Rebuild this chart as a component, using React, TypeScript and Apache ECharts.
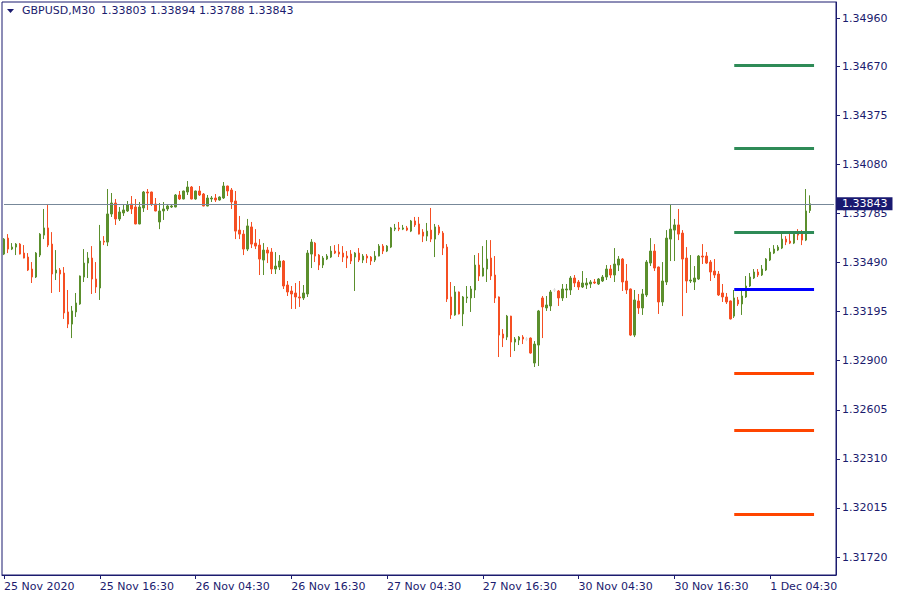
import { useEffect, useRef } from "react";
import * as echarts from "echarts";

// [open, close, low, high] per 30-minute bar, 25 Nov 2020 04:30 onwards
const ohlc: number[][] = [
  [1.33541, 1.33631, 1.33535, 1.33637], [1.33637, 1.33571, 1.33547, 1.33661], [1.33571, 1.33583, 1.33565, 1.33607],
  [1.33583, 1.33601, 1.33535, 1.33607], [1.33601, 1.33541, 1.33539, 1.33607], [1.33547, 1.33517, 1.33515, 1.33595],
  [1.33523, 1.33445, 1.33439, 1.33547], [1.33451, 1.33403, 1.33367, 1.33493], [1.33403, 1.33547, 1.33397, 1.33553],
  [1.33535, 1.33661, 1.33523, 1.33667], [1.33655, 1.33698, 1.33631, 1.33812], [1.33698, 1.33595, 1.33583, 1.33842],
  [1.33601, 1.33421, 1.33307, 1.33673], [1.33427, 1.33445, 1.33385, 1.33565], [1.33445, 1.33421, 1.33313, 1.33457],
  [1.33427, 1.33187, 1.33151, 1.33463], [1.33193, 1.33120, 1.33096, 1.33325], [1.33120, 1.33199, 1.33036, 1.33229],
  [1.33193, 1.33247, 1.33163, 1.33307], [1.33241, 1.33409, 1.33236, 1.33412], [1.33403, 1.33487, 1.33373, 1.33571],
  [1.33487, 1.33517, 1.33397, 1.33553], [1.33517, 1.33391, 1.33301, 1.33589], [1.33391, 1.33343, 1.33307, 1.33493],
  [1.33337, 1.33619, 1.33265, 1.33716], [1.33619, 1.33613, 1.33595, 1.33649], [1.33613, 1.33782, 1.33589, 1.33932],
  [1.33782, 1.33848, 1.33764, 1.33908], [1.33848, 1.33752, 1.33716, 1.33872], [1.33752, 1.33794, 1.33740, 1.33824],
  [1.33788, 1.33806, 1.33770, 1.33836], [1.33800, 1.33836, 1.33794, 1.33860], [1.33842, 1.33812, 1.33782, 1.33890],
  [1.33824, 1.33722, 1.33720, 1.33872], [1.33722, 1.33824, 1.33720, 1.33854], [1.33818, 1.33914, 1.33794, 1.33920],
  [1.33914, 1.33908, 1.33806, 1.33932], [1.33914, 1.33842, 1.33830, 1.33916], [1.33842, 1.33800, 1.33798, 1.33878],
  [1.33734, 1.33800, 1.33691, 1.33848], [1.33800, 1.33812, 1.33746, 1.33854], [1.33812, 1.33830, 1.33800, 1.33842],
  [1.33824, 1.33830, 1.33818, 1.33836], [1.33824, 1.33896, 1.33822, 1.33902], [1.33896, 1.33872, 1.33866, 1.33920],
  [1.33872, 1.33920, 1.33870, 1.33922], [1.33914, 1.33944, 1.33896, 1.33980], [1.33944, 1.33872, 1.33870, 1.33950],
  [1.33872, 1.33920, 1.33868, 1.33922], [1.33920, 1.33896, 1.33890, 1.33950], [1.33902, 1.33830, 1.33828, 1.33908],
  [1.33830, 1.33878, 1.33828, 1.33896], [1.33872, 1.33878, 1.33854, 1.33890], [1.33878, 1.33866, 1.33854, 1.33902],
  [1.33866, 1.33884, 1.33862, 1.33888], [1.33878, 1.33950, 1.33872, 1.33974], [1.33950, 1.33920, 1.33890, 1.33952],
  [1.33926, 1.33854, 1.33812, 1.33938], [1.33860, 1.33679, 1.33631, 1.33920], [1.33685, 1.33661, 1.33631, 1.33770],
  [1.33661, 1.33571, 1.33535, 1.33685], [1.33571, 1.33710, 1.33559, 1.33752], [1.33704, 1.33601, 1.33577, 1.33734],
  [1.33607, 1.33589, 1.33571, 1.33691], [1.33595, 1.33511, 1.33415, 1.33631], [1.33505, 1.33565, 1.33415, 1.33607],
  [1.33565, 1.33547, 1.33487, 1.33583], [1.33553, 1.33451, 1.33421, 1.33577], [1.33451, 1.33469, 1.33421, 1.33553],
  [1.33463, 1.33499, 1.33445, 1.33535], [1.33499, 1.33349, 1.33331, 1.33505], [1.33355, 1.33313, 1.33289, 1.33379],
  [1.33319, 1.33301, 1.33211, 1.33349], [1.33307, 1.33283, 1.33211, 1.33367], [1.33283, 1.33277, 1.33223, 1.33379],
  [1.33277, 1.33307, 1.33265, 1.33355], [1.33301, 1.33547, 1.33283, 1.33565], [1.33541, 1.33613, 1.33457, 1.33631],
  [1.33607, 1.33529, 1.33493, 1.33613], [1.33535, 1.33475, 1.33445, 1.33541], [1.33475, 1.33517, 1.33457, 1.33529],
  [1.33511, 1.33529, 1.33505, 1.33541], [1.33523, 1.33559, 1.33517, 1.33589], [1.33559, 1.33547, 1.33541, 1.33595],
  [1.33553, 1.33541, 1.33523, 1.33601], [1.33547, 1.33523, 1.33493, 1.33589], [1.33529, 1.33517, 1.33457, 1.33559],
  [1.33541, 1.33499, 1.33481, 1.33565], [1.33523, 1.33547, 1.33319, 1.33553], [1.33547, 1.33505, 1.33493, 1.33577],
  [1.33505, 1.33529, 1.33487, 1.33541], [1.33529, 1.33517, 1.33487, 1.33541], [1.33523, 1.33499, 1.33475, 1.33529],
  [1.33505, 1.33529, 1.33493, 1.33559], [1.33529, 1.33589, 1.33527, 1.33601], [1.33589, 1.33559, 1.33541, 1.33601],
  [1.33559, 1.33589, 1.33553, 1.33595], [1.33583, 1.33698, 1.33577, 1.33704], [1.33691, 1.33698, 1.33679, 1.33722],
  [1.33698, 1.33691, 1.33679, 1.33734], [1.33691, 1.33698, 1.33685, 1.33716], [1.33698, 1.33685, 1.33679, 1.33710],
  [1.33679, 1.33740, 1.33673, 1.33746], [1.33740, 1.33716, 1.33704, 1.33764], [1.33722, 1.33661, 1.33659, 1.33764],
  [1.33673, 1.33649, 1.33613, 1.33691], [1.33649, 1.33679, 1.33619, 1.33728], [1.33685, 1.33631, 1.33613, 1.33818],
  [1.33631, 1.33704, 1.33523, 1.33722], [1.33704, 1.33667, 1.33655, 1.33716], [1.33667, 1.33577, 1.33535, 1.33679],
  [1.33583, 1.33271, 1.33253, 1.33601], [1.33283, 1.33175, 1.33151, 1.33373], [1.33175, 1.33313, 1.33170, 1.33349],
  [1.33313, 1.33181, 1.33178, 1.33316], [1.33181, 1.33283, 1.33108, 1.33289], [1.33277, 1.33283, 1.33247, 1.33349],
  [1.33277, 1.33331, 1.33193, 1.33349], [1.33325, 1.33475, 1.33277, 1.33535], [1.33475, 1.33409, 1.33379, 1.33547],
  [1.33409, 1.33457, 1.33406, 1.33589], [1.33451, 1.33511, 1.33373, 1.33625], [1.33517, 1.33409, 1.33385, 1.33625],
  [1.33415, 1.33277, 1.33247, 1.33529], [1.33283, 1.33054, 1.32922, 1.33286], [1.33060, 1.33036, 1.32982, 1.33090],
  [1.33042, 1.33168, 1.33024, 1.33175], [1.33168, 1.33012, 1.32922, 1.33170], [1.33012, 1.33030, 1.32958, 1.33042],
  [1.33024, 1.33042, 1.32994, 1.33048], [1.33042, 1.33030, 1.33000, 1.33054], [1.33030, 1.33030, 1.33018, 1.33042],
  [1.33036, 1.32946, 1.32942, 1.33040], [1.32886, 1.33000, 1.32862, 1.33018], [1.32994, 1.33199, 1.32868, 1.33205],
  [1.33277, 1.33223, 1.33036, 1.33289], [1.33217, 1.33235, 1.33199, 1.33289], [1.33229, 1.33313, 1.33199, 1.33325],
  [1.33325, 1.33325, 1.33313, 1.33337], [1.33319, 1.33277, 1.33229, 1.33325], [1.33277, 1.33331, 1.33259, 1.33361],
  [1.33325, 1.33331, 1.33277, 1.33361], [1.33325, 1.33397, 1.33295, 1.33409], [1.33397, 1.33367, 1.33343, 1.33415],
  [1.33373, 1.33343, 1.33325, 1.33385], [1.33343, 1.33367, 1.33337, 1.33439], [1.33355, 1.33367, 1.33331, 1.33397],
  [1.33361, 1.33373, 1.33337, 1.33385], [1.33373, 1.33367, 1.33361, 1.33391], [1.33361, 1.33391, 1.33355, 1.33397],
  [1.33379, 1.33403, 1.33373, 1.33415], [1.33403, 1.33451, 1.33385, 1.33475], [1.33451, 1.33415, 1.33397, 1.33475],
  [1.33415, 1.33481, 1.33373, 1.33577], [1.33475, 1.33511, 1.33439, 1.33529], [1.33511, 1.33373, 1.33319, 1.33517],
  [1.33379, 1.33325, 1.33301, 1.33481], [1.33331, 1.33054, 1.33048, 1.33334], [1.33054, 1.33265, 1.33042, 1.33325],
  [1.33259, 1.33217, 1.33181, 1.33301], [1.33217, 1.33301, 1.33175, 1.33331], [1.33295, 1.33493, 1.33283, 1.33505],
  [1.33487, 1.33559, 1.33469, 1.33637], [1.33559, 1.33457, 1.33439, 1.33601], [1.33463, 1.33253, 1.33181, 1.33466],
  [1.33253, 1.33379, 1.33229, 1.33493], [1.33373, 1.33637, 1.33355, 1.33685], [1.33631, 1.33691, 1.33499, 1.33842],
  [1.33685, 1.33716, 1.33499, 1.33752], [1.33716, 1.33661, 1.33625, 1.33812], [1.33667, 1.33511, 1.33168, 1.33685],
  [1.33517, 1.33379, 1.33307, 1.33583], [1.33379, 1.33385, 1.33367, 1.33535], [1.33373, 1.33397, 1.33325, 1.33469],
  [1.33391, 1.33529, 1.33385, 1.33535], [1.33529, 1.33523, 1.33481, 1.33601], [1.33529, 1.33487, 1.33481, 1.33553],
  [1.33493, 1.33433, 1.33379, 1.33505], [1.33439, 1.33415, 1.33397, 1.33511], [1.33421, 1.33295, 1.33289, 1.33439],
  [1.33307, 1.33283, 1.33253, 1.33361], [1.33283, 1.33253, 1.33241, 1.33307], [1.33259, 1.33151, 1.33148, 1.33262],
  [1.33168, 1.33277, 1.33157, 1.33325], [1.33265, 1.33241, 1.33229, 1.33283], [1.33241, 1.33289, 1.33175, 1.33331],
  [1.33283, 1.33349, 1.33277, 1.33409], [1.33349, 1.33403, 1.33343, 1.33427], [1.33397, 1.33433, 1.33391, 1.33451],
  [1.33433, 1.33415, 1.33403, 1.33451], [1.33415, 1.33451, 1.33409, 1.33475], [1.33445, 1.33511, 1.33439, 1.33517],
  [1.33505, 1.33553, 1.33499, 1.33577], [1.33547, 1.33571, 1.33541, 1.33595], [1.33565, 1.33583, 1.33559, 1.33595],
  [1.33577, 1.33631, 1.33571, 1.33667], [1.33631, 1.33613, 1.33595, 1.33649], [1.33619, 1.33607, 1.33601, 1.33667],
  [1.33607, 1.33661, 1.33601, 1.33673], [1.33667, 1.33655, 1.33625, 1.33691], [1.33667, 1.33625, 1.33595, 1.33685],
  [1.33625, 1.33800, 1.33619, 1.33932], [1.33803, 1.33843, 1.33788, 1.33894],
];

// pivot levels drawn at the right end
const levelValues = [1.34674, 1.34178, 1.33673, 1.33331, 1.32826, 1.32483, 1.31979];
const levelColors = ["#2e8b57", "#2e8b57", "#2e8b57", "#0000ff", "#ff4500", "#ff4500", "#ff4500"];
const levelStartBar = 183;
const levelEndBar = 203;

const yTickValues = [1.3172, 1.32015, 1.3231, 1.32605, 1.329, 1.33195, 1.3349, 1.33785, 1.3408, 1.34375, 1.3467, 1.3496];
const xTickLabels = [
  "25 Nov 2020", "25 Nov 16:30", "26 Nov 04:30", "26 Nov 16:30", "27 Nov 04:30",
  "27 Nov 16:30", "30 Nov 04:30", "30 Nov 16:30", "1 Dec 04:30",
];
const xTickEvery = 24;
const totalSlots = 209;

const NAVY = "#1b1b6e";
const FONT = "DejaVu Sans";
const BULL = "#5b8f2d";
const BEAR = "#f54f23";

function buildCategories(n: number): string[] {
  const months = ["Jan", "Feb", "Mar", "Apr", "May", "Jun", "Jul", "Aug", "Sep", "Oct", "Nov", "Dec"];
  const out: string[] = [];
  let t = Date.UTC(2020, 10, 25, 4, 30);
  while (out.length < n) {
    const d = new Date(t);
    const wd = d.getUTCDay();
    if (wd !== 0 && wd !== 6) {
      const hh = String(d.getUTCHours()).padStart(2, "0");
      const mm = String(d.getUTCMinutes()).padStart(2, "0");
      out.push(`${d.getUTCDate()} ${months[d.getUTCMonth()]} ${hh}:${mm}`);
    }
    t += 30 * 60 * 1000;
  }
  return out;
}

export default function App() {
  const ref = useRef<HTMLDivElement>(null);
  useEffect(() => {
    if (!ref.current) return;
    const chart = echarts.init(ref.current, undefined, { renderer: "svg" });
    const categories = buildCategories(totalSlots);
    const last = ohlc[ohlc.length - 1];
    const lastClose = last[1];
    const quote = [last[0], last[3], last[2], last[1]].map((v) => v.toFixed(5)).join(" ");

    const candleData = ohlc.map((d) =>
      d[0] === d[1]
        ? { value: d, itemStyle: { color: "#dcdcdc", color0: "#dcdcdc", borderColor: "#dcdcdc", borderColor0: "#dcdcdc" } }
        : d
    );

    const showTick = (index: number) => index % xTickEvery === 0 && index / xTickEvery < xTickLabels.length;

    const levelLines = levelValues.map((v, i) => [
      {
        coord: [categories[levelStartBar], v],
        lineStyle: { color: levelColors[i], width: 3, type: "solid" },
        label: { show: false },
      },
      { coord: [categories[levelEndBar], v] },
    ]);

    const priceLine = [
      {
        coord: [categories[0], lastClose],
        lineStyle: { color: "#778899", width: 1, type: "solid" },
        label: {
          show: true,
          position: "end",
          distance: 3,
          formatter: lastClose.toFixed(5),
          color: "#ffffff",
          backgroundColor: "#191970",
          padding: [1, 5, 0, 5],
          lineHeight: 12,
          fontFamily: FONT,
          fontSize: 11,
        },
      },
      { coord: [categories[totalSlots - 1], lastClose] },
    ];

    chart.setOption({
      animation: false,
      backgroundColor: "#ffffff",
      grid: {
        left: 2,
        right: 64,
        top: 2,
        bottom: 25,
        show: true,
        borderColor: NAVY,
        borderWidth: 1,
        backgroundColor: "transparent",
      },
      xAxis: {
        type: "category",
        data: categories,
        boundaryGap: true,
        axisLine: { show: true, lineStyle: { color: NAVY, width: 1 } },
        axisTick: {
          show: true,
          alignWithLabel: true,
          interval: (index: number) => showTick(index),
          length: 4,
          lineStyle: { color: NAVY },
        },
        axisLabel: {
          show: true,
          interval: (index: number) => showTick(index),
          formatter: (_v: string, index: number) => xTickLabels[index / xTickEvery] ?? "",
          align: "left",
          margin: 6,
          color: NAVY,
          fontFamily: FONT,
          fontSize: 11,
        },
        splitLine: { show: false },
      },
      yAxis: {
        type: "value",
        position: "right",
        min: 1.316118,
        max: 1.350562,
        splitLine: { show: false },
        axisLine: { show: true, lineStyle: { color: NAVY, width: 1 } },
        axisTick: { show: true, length: 4, lineStyle: { color: NAVY }, customValues: yTickValues },
        axisLabel: {
          show: true,
          customValues: yTickValues,
          formatter: (v: number) => v.toFixed(5),
          margin: 6,
          color: NAVY,
          fontFamily: FONT,
          fontSize: 11,
        },
      },
      graphic: [
        {
          type: "polygon",
          shape: { points: [[7, 9], [14, 9], [10.5, 13]] },
          style: { fill: NAVY },
        },
        {
          type: "text",
          left: 22,
          top: 5,
          style: { text: "GBPUSD,M30", fill: NAVY, font: `11px '${FONT}'` },
        },
        {
          type: "text",
          left: 101,
          top: 5,
          style: { text: quote, fill: NAVY, font: `11px '${FONT}'` },
        },
      ],
      series: [
        {
          type: "candlestick",
          data: candleData,
          barWidth: 2,
          itemStyle: {
            color: BULL,
            color0: BEAR,
            borderColor: BULL,
            borderColor0: BEAR,
            borderWidth: 1,
          },
          emphasis: { disabled: true },
          markLine: {
            silent: true,
            symbol: ["none", "none"],
            animation: false,
            data: [priceLine, ...levelLines],
          },
        },
      ],
    });
    return () => chart.dispose();
  }, []);
  return (
    <div
      ref={ref}
      style={{ position: "fixed", left: 0, top: 0, width: 900, height: 600, background: "#ffffff" }}
    />
  );
}
